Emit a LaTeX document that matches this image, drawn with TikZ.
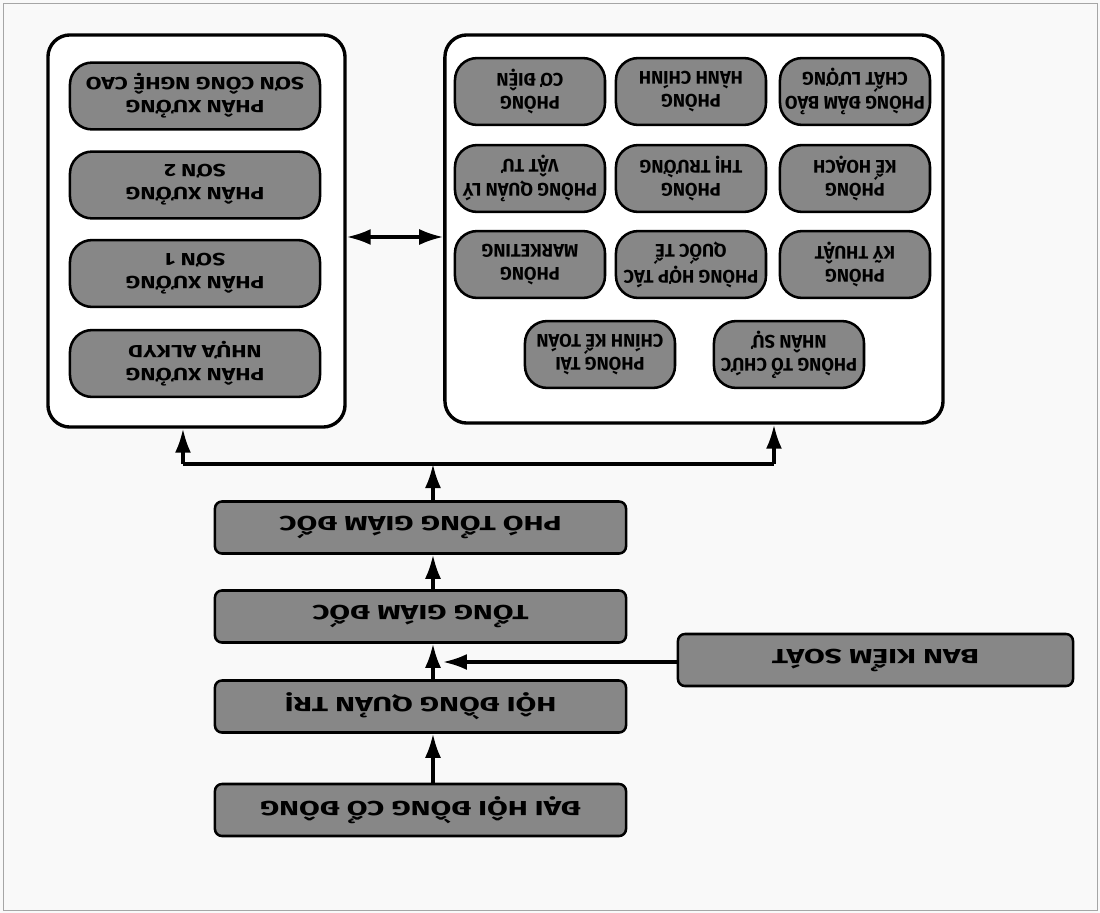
\documentclass[tikz,border=0pt]{standalone}
\usepackage{fontspec}
\setmainfont{Fira Sans}
\newfontfamily\widefont{Fira Sans}[FakeStretch=1.47]
\newfontfamily\xuongfont{Fira Sans}[FakeStretch=1.3]
\usepackage{tikz}
\usetikzlibrary{arrows.meta,positioning}

\begin{document}
\begin{tikzpicture}[
    x=0.025cm, y=0.025cm, rotate=180, transform shape,
    lead/.style={
      draw, line width=1.8pt, rounded corners=5pt, fill=black!47,
      minimum width=10.275cm, minimum height=1.3cm, inner sep=0pt,
      font=\widefont\bfseries\fontsize{14.5}{16}\selectfont
    },
    unit/.style={
      draw, line width=1.8pt, rounded corners=0.55cm, fill=black!47,
      minimum height=1.67cm, inner sep=0pt, align=center,
      font=\bfseries\fontsize{13}{16.5}\selectfont
    },
    xuongbox/.style={unit, minimum width=6.25cm,
      font=\xuongfont\bfseries\fontsize{12.5}{16.5}\selectfont},
    phongbox/.style={unit, minimum width=3.75cm},
    group/.style={
      draw, line width=2.4pt, rounded corners=0.55cm, fill=white,
      inner sep=0pt
    },
    arr/.style={-{Latex[length=6mm,width=4mm]}, line width=2.2pt},
    link/.style={line width=2.2pt}
  ]
    % page and frame
    \fill[gray!5] (0,0) rectangle (1100,913);
    \draw[gray!70, line width=0.6pt] (3,3) rectangle (1097,910);

    % Management line
    \node[lead] (dhdcd) at (679.5,810) {ĐẠI HỘI ĐỒNG CỔ ĐÔNG};
    \node[lead] (hdqt) at (679.5,706.5) {HỘI ĐỒNG QUẢN TRỊ};
    \node[lead] (tgd) at (679.5,616.5) {TỔNG GIÁM ĐỐC};
    \node[lead] (ptgd) at (679.5,527.5) {PHÓ TỔNG GIÁM ĐỐC};
    \node[lead, minimum width=9.875cm] (bks) at (224.5,660) {BAN KIỂM SOÁT};

    \coordinate (spine) at (667,0);
    \coordinate (bksend) at (657,662);
    \coordinate (jphong) at (326,464);
    \coordinate (jxuong) at (917,464);
    \coordinate (mid) at (705,237);

    \draw[arr] (dhdcd.south -| spine) -- (hdqt.north -| spine);
    \draw[arr] (hdqt.south -| spine) -- (tgd.north -| spine);
    \draw[arr] (tgd.south -| spine) -- (ptgd.north -| spine);
    \draw[arr] (bks.east |- bksend) -- (bksend);
    \draw[arr] (ptgd.south -| spine) -- (spine |- jphong);

    % Departments
    \node[group, minimum width=12.45cm, minimum height=9.7cm] (phong) at (406,229) {};

    \node[phongbox] (tochuc) at (311,354.5) {PHÒNG TỔ CHỨC\\NHÂN SỰ};
    \node[phongbox] (ketoan) at (500,354.5) {PHÒNG TÀI\\CHÍNH KẾ TOÁN};

    \node[phongbox] (kythuat) at (245,264.5) {PHÒNG\\KỸ THUẬT};
    \node[phongbox] (hoptac) at (409,264.5) {PHÒNG HỢP TÁC\\QUỐC TẾ};
    \node[phongbox] (marketing) at (570,264.5) {PHÒNG\\MARKETING};

    \node[phongbox] (kehoach) at (245,178.5) {PHÒNG\\KẾ HOẠCH};
    \node[phongbox] (thitruong) at (409,178.5) {PHÒNG\\THỊ TRƯỜNG};
    \node[phongbox] (vattu) at (570,178.5) {PHÒNG QUẢN LÝ\\VẬT TƯ};

    \node[phongbox] (chatluong) at (245,91.5) {PHÒNG ĐẢM BẢO\\CHẤT LƯỢNG};
    \node[phongbox] (hanhchinh) at (409,91.5) {PHÒNG\\HÀNH CHÍNH};
    \node[phongbox] (codien) at (570,91.5) {PHÒNG\\CƠ ĐIỆN};

    % Workshops
    \node[group, minimum width=7.425cm, minimum height=9.8cm] (xuong) at (903.5,231) {};

    \node[xuongbox] (alkyd) at (905,363.5) {PHÂN XƯỞNG\\NHỰA ALKYD};
    \node[xuongbox] (son1) at (905,273.5) {PHÂN XƯỞNG\\SƠN 1};
    \node[xuongbox] (son2) at (905,185) {PHÂN XƯỞNG\\SƠN 2};
    \node[xuongbox] (soncao) at (905,96) {PHÂN XƯỞNG\\SƠN CÔNG NGHỆ CAO};

    % branches
    \draw[link] (jphong) -- (jxuong);
    \draw[arr] (jxuong) -- (xuong.north -| jxuong);
    \draw[arr] (jphong) -- (phong.north -| jphong);
    \draw[{Latex[length=6mm,width=4mm]}-{Latex[length=6mm,width=4mm]}, line width=2.2pt]
      (xuong.west |- mid) -- (phong.east |- mid);
  \end{tikzpicture}
\end{document}
